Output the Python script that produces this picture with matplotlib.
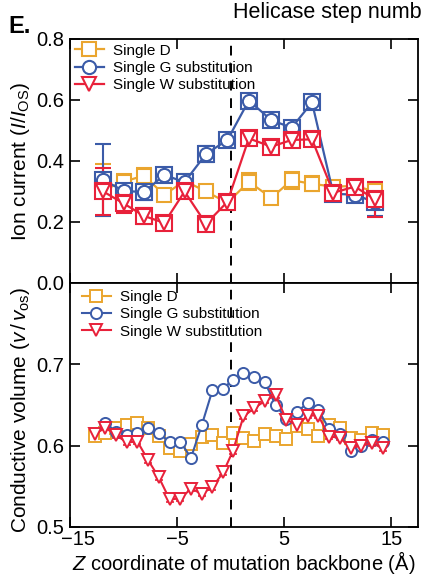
import matplotlib
matplotlib.use('Agg')
import matplotlib.pyplot as plt
from matplotlib.transforms import ScaledTranslation

plt.rcParams['font.family'] = ['Liberation Sans', 'DejaVu Sans']
plt.rcParams['mathtext.fontset'] = 'custom'
plt.rcParams['mathtext.rm'] = 'Liberation Sans'
plt.rcParams['mathtext.it'] = 'Liberation Sans:italic'

# colours
c_d = '#EAA52E'
c_g = '#3B5BA8'
c_w = '#E8213A'

# top panel: ion current
x_top = [-11.9, -10.0, -8.1, -6.2, -4.3, -2.3, -0.3, 1.7, 3.8, 5.7, 7.6, 9.6, 11.6, 13.5]
d_top = [0.305, 0.332, 0.352, 0.289, 0.335, 0.300, 0.263, 0.332, 0.279, 0.337, 0.325, 0.316, 0.318, 0.300]
d_top_err = [0.085, 0.025, 0.026, 0.020, 0.020, 0.015, 0.020, 0.028, 0.015, 0.028, 0.025, 0.015, 0.020, 0.020]
g_top = [0.338, 0.302, 0.298, 0.354, 0.331, 0.423, 0.469, 0.598, 0.534, 0.509, 0.592, 0.292, 0.290, 0.264]
g_top_err = [0.117, 0.030, 0.025, 0.020, 0.020, 0.025, 0.020, 0.020, 0.015, 0.020, 0.020, 0.020, 0.015, 0.045]
w_top = [0.300, 0.261, 0.220, 0.197, 0.300, 0.194, 0.266, 0.474, 0.447, 0.469, 0.471, 0.296, 0.316, 0.274]
w_top_err = [0.078, 0.030, 0.025, 0.020, 0.020, 0.020, 0.020, 0.020, 0.020, 0.020, 0.020, 0.020, 0.020, 0.057]

# bottom panel: conductive volume
x_bot = [-12.7, -11.7, -10.7, -9.7, -8.7, -7.7, -6.7, -5.7, -4.7, -3.7, -2.7, -1.7, -0.7, 0.2,
         1.2, 2.2, 3.2, 4.2, 5.2, 6.2, 7.2, 8.2, 9.2, 10.2, 11.2, 12.2, 13.2, 14.2]
d_bot = [0.612, 0.616, 0.622, 0.626, 0.628, 0.622, 0.612, 0.597, 0.594, 0.602, 0.611, 0.613, 0.603, 0.615,
         0.610, 0.606, 0.614, 0.612, 0.608, 0.624, 0.620, 0.612, 0.626, 0.622, 0.609, 0.607, 0.616, 0.613]
g_bot = [0.628, 0.617, 0.613, 0.616, 0.622, 0.616, 0.604, 0.605, 0.585, 0.625, 0.668, 0.670, 0.681,
         0.689, 0.684, 0.678, 0.650, 0.633, 0.641, 0.653, 0.644, 0.620, 0.614, 0.594, 0.600, 0.607, 0.604]
w_bot = [0.614, 0.622, 0.613, 0.604, 0.605, 0.582, 0.561, 0.534, 0.535, 0.547, 0.541, 0.549, 0.567, 0.593,
         0.636, 0.646, 0.655, 0.662, 0.632, 0.625, 0.637, 0.637, 0.611, 0.610, 0.597, 0.600, 0.603, 0.597]
d_bot_err = [0.003, 0.003, 0.003, 0.003, 0.003, 0.003, 0.003, 0.003, 0.003, 0.003, 0.003, 0.003, 0.003, 0.003,
             0.003, 0.003, 0.003, 0.003, 0.003, 0.003, 0.003, 0.003, 0.003, 0.003, 0.003, 0.003, 0.003, 0.003]
g_bot_err = [0.003, 0.003, 0.003, 0.003, 0.003, 0.003, 0.003, 0.003, 0.003, 0.003, 0.003, 0.003, 0.003,
             0.003, 0.003, 0.003, 0.003, 0.003, 0.003, 0.003, 0.003, 0.003, 0.003, 0.003, 0.003, 0.003, 0.003]
w_bot_err = [0.003, 0.003, 0.003, 0.003, 0.003, 0.003, 0.003, 0.003, 0.003, 0.003, 0.003, 0.003, 0.003, 0.003,
             0.003, 0.003, 0.003, 0.003, 0.003, 0.003, 0.003, 0.003, 0.003, 0.003, 0.003, 0.003, 0.003, 0.003]

labels = ['Single D', 'Single G substitution', 'Single W substitution']
xticks = [-15, -5, 5, 15]

fig = plt.figure(figsize=(4.23, 5.76), dpi=100)
ax1 = fig.add_axes([0.1655, 0.5087, 0.8227, 0.4236])
ax2 = fig.add_axes([0.1655, 0.0851, 0.8227, 0.4236])


def style_axis(ax):
    ax.set_xlim(-15, 17.5)
    ax.set_xticks(xticks)
    ax.tick_params(direction='in', length=7, width=1.2, top=True, right=True, labelsize=14.5, pad=4)
    ax.tick_params(axis='x', pad=2.5)
    for s in ax.spines.values():
        s.set_linewidth(1.3)
    ax.axvline(0, color='black', lw=1.4, ls=(0, (5, 4)), zorder=1)


# top
handles = []
for x, y, e, c, m, ms, lab in [(x_top, d_top, d_top_err, c_d, 's', 10.5, labels[0]),
                                (x_top, g_top, g_top_err, c_g, 'o', 9.5, labels[1]),
                                (x_top, w_top, w_top_err, c_w, 'v', 10, labels[2])]:
    ax1.errorbar(x, y, yerr=e, fmt='none', ecolor=c, elinewidth=1.5, capsize=5.5, capthick=1.5, zorder=2)
    if m != 's':
        ax1.plot(x, y, ls='none', marker='s', ms=11, mfc='white', mec=c, mew=1.5, zorder=3)
    h, = ax1.plot(x, y, color=c, lw=1.6, marker=m, ms=ms, mfc='white', mec=c, mew=1.5, label=lab, zorder=3)
    handles.append(h)

style_axis(ax1)
ax1.set_ylim(0, 0.8)
ax1.set_yticks([0.0, 0.2, 0.4, 0.6, 0.8])
ax1.set_yticklabels(['0.0', '0.2', '0.4', '0.6', '0.8'])
ax1.tick_params(labelbottom=False)
ax1.set_ylabel(r'Ion current ($I/I_{\rm OS}$)', fontsize=15)
ax1.yaxis.set_label_coords(-0.11, 0.5)
ax1.legend(handles=handles, loc='upper left', bbox_to_anchor=(0.0, 1.0), frameon=False, fontsize=11,
           handlelength=1.9, handletextpad=0.6, labelspacing=0.22, borderaxespad=0.1, borderpad=0.2)

# bottom
handles = []
for x, y, e, c, m, lab in [(x_bot, d_bot, d_bot_err, c_d, 's', labels[0]),
                            (x_bot[1:], g_bot, g_bot_err, c_g, 'o', labels[1]),
                            (x_bot, w_bot, w_bot_err, c_w, 'v', labels[2])]:
    ax2.errorbar(x, y, yerr=e, fmt='none', ecolor=c, elinewidth=1.2, capsize=3, capthick=1.2, zorder=2)
    h, = ax2.plot(x, y, color=c, lw=1.5, marker=m, ms=8, mfc='white', mec=c, mew=1.4, label=lab, zorder=3)
    handles.append(h)

style_axis(ax2)
ax2.set_ylim(0.5, 0.8)
ax2.set_yticks([0.5, 0.6, 0.7])
ax2.set_xticklabels(['\u221215', '\u22125', '5', '15'])
first = ax2.get_xticklabels()[0]
first.set_transform(first.get_transform() + ScaledTranslation(0.08, 0, fig.dpi_scale_trans))
ax2.set_ylabel(r'Conductive volume ($v\,/\,v_{\rm os}$)', fontsize=15)
ax2.yaxis.set_label_coords(-0.11, 0.48)
ax2.set_xlabel(r'$Z$ coordinate of mutation backbone (Å)', fontsize=14.5, labelpad=0)
ax2.legend(handles=handles, loc='upper left', bbox_to_anchor=(0.02, 0.99), frameon=False, fontsize=11,
           handlelength=1.9, handletextpad=0.6, labelspacing=0.22, borderaxespad=0.1, borderpad=0.2)

fig.text(0.02, 0.943, 'E.', fontsize=17, fontweight='bold')
# the panel title runs off the right edge in the source figure; only this part is visible
fig.text(0.997, 0.968, 'Helicase step numb', fontsize=15.5, va='baseline', ha='right')

fig.savefig('out.png', dpi=100)
